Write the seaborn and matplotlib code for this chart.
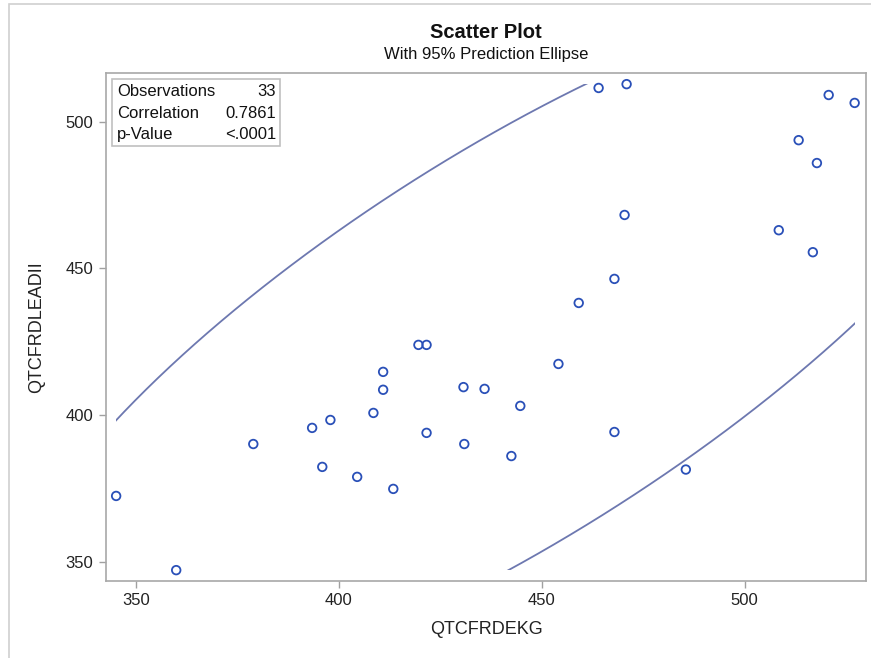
import numpy as np
import pandas as pd
import seaborn as sns
import matplotlib.pyplot as plt
from matplotlib.patches import Rectangle

# Data
qtc_ekg = [345.1, 359.9, 378.9, 393.4, 395.9, 397.9, 404.5, 408.5, 410.9, 410.9,
           413.4, 419.6, 421.6, 421.6, 430.7, 430.9, 435.9, 442.5, 444.7, 454.1,
           459.1, 464.0, 467.9, 467.9, 470.4, 470.9, 485.5, 508.4, 513.3, 516.8,
           517.8, 520.7, 527.1]
qtc_lead2 = [372.4, 347.1, 390.1, 395.6, 382.3, 398.3, 378.9, 400.7, 408.6, 414.7,
             374.8, 423.9, 423.9, 393.9, 409.5, 390.1, 408.9, 386.0, 403.1, 417.4,
             438.2, 511.5, 446.4, 394.2, 468.2, 512.8, 381.4, 463.0, 493.7, 455.5,
             485.9, 509.1, 506.4]
stat_labels = ["Observations", "Correlation", "p-Value"]
stat_values = ["33", "0.7861", "<.0001"]
x_ticks = [350, 400, 450, 500]
y_ticks = [350, 400, 450, 500]

dat = pd.DataFrame({"QTCFRDEKG": qtc_ekg, "QTCFRDLEADII": qtc_lead2})

sns.set_style("white")
plt.rcParams['font.family'] = ['Liberation Sans', 'DejaVu Sans']

fig = plt.figure(figsize=(8.71, 6.58), dpi=100)
ax = fig.add_axes([106/871, 1 - 580.7/658, (866-106)/871, (580.7-73.3)/658])

# outer light frame of the graph
fig.patches.append(Rectangle((9/871, -0.1), 1.2, 1 - 4/658 + 0.1, transform=fig.transFigure,
                             fill=False, edgecolor="#d0d0d0", linewidth=1.2))

# 95% prediction ellipse (from sample mean / covariance, F-based radius)
n = len(dat)
xy = dat[["QTCFRDEKG", "QTCFRDLEADII"]].to_numpy()
mu = xy.mean(axis=0)
S = np.cov(xy.T)
d2 = n - 2
f95 = (d2 / 2) * (0.05 ** (-2 / d2) - 1)  # F(0.95; 2, n-2)
c2 = 2 * (n + 1) * (n - 1) / (n * (n - 2)) * f95
L = np.linalg.cholesky(S)
t = np.linspace(0, 2 * np.pi, 600)
ell = mu[:, None] + np.sqrt(c2) * L @ np.vstack([np.cos(t), np.sin(t)])
line, = ax.plot(ell[0], ell[1], color="#6d78b0", linewidth=1.3, zorder=2)
# SAS clips the ellipse to the data range
xmin, ymin = xy.min(axis=0)
xmax, ymax = xy.max(axis=0)
clip = Rectangle((xmin, ymin), xmax - xmin, ymax - ymin, transform=ax.transData)
line.set_clip_path(clip)

sns.scatterplot(data=dat, x="QTCFRDEKG", y="QTCFRDLEADII", ax=ax, marker="o", s=38,
                facecolor="none", edgecolor="#2a50b8", linewidth=1.3, zorder=3)

ax.set_xlim(342.6, 529.9)
ax.set_ylim(343.5, 516.5)
ax.set_xticks(x_ticks)
ax.set_yticks(y_ticks)
ax.tick_params(axis="both", direction="out", length=5, width=1, color="#a0a0a0",
               labelsize=12, labelcolor="#222222", pad=4, bottom=True, left=True)
for s in ax.spines.values():
    s.set_color("#a8a8a8")
    s.set_linewidth(1.2)
ax.set_xlabel("QTCFRDEKG", fontsize=13, color="#222222", labelpad=9)
ax.set_ylabel("QTCFRDLEADII", fontsize=13, color="#222222", labelpad=15)

# statistics inset
ax.add_patch(Rectangle((112/871, 1 - 146/658), (280-112)/871, (146-79)/658,
                       transform=fig.transFigure, fill=True, facecolor="white",
                       edgecolor="#c0c0c0", linewidth=1.2, zorder=4))
for i, (lab, val) in enumerate(zip(stat_labels, stat_values)):
    yy = 1 - (91.5 + i * 21.5) / 658
    fig.text(117/871, yy, lab, fontsize=12, va="center", ha="left", color="#111111", zorder=5)
    fig.text(276/871, yy, val, fontsize=12, va="center", ha="right", color="#111111", zorder=5)

fig.text(486/871, 1 - 33/658, "Scatter Plot", fontsize=14.5, fontweight="bold",
         ha="center", va="center", color="#111111")
fig.text(486/871, 1 - 54/658, "With 95% Prediction Ellipse", fontsize=12,
         ha="center", va="center", color="#111111")

plt.savefig("out.png", dpi=100)
plt.close()
